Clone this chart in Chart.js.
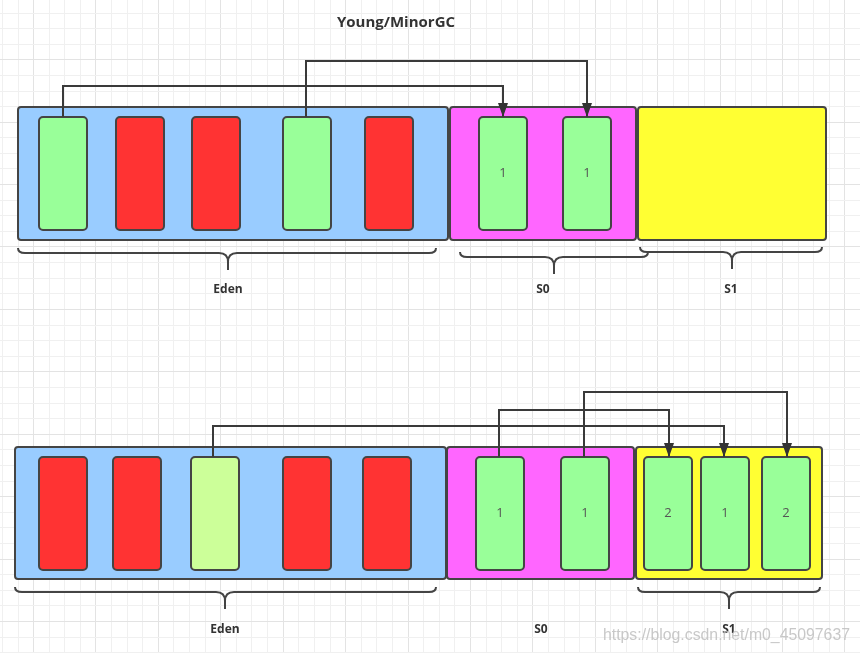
<!DOCTYPE html>
<html lang="en">
<head>
  <meta charset="UTF-8">
  <title>Young/MinorGC</title>
  <script src="https://cdn.jsdelivr.net/npm/chart.js"></script>
  <style>
    html, body { margin: 0; padding: 0; background: #fff; }
    #wrap { width: 860px; height: 653px; }
  </style>
</head>
<body>
  <div id="wrap"><canvas id="gc" width="860" height="653"></canvas></div>

  <script>
    // ---- data (diagram units, mapped through the chart scales) ----
    const title = 'Young/MinorGC';
    const spaceNames = ['Eden', 'S0', 'S1'];

    // before the collection
    const topSpaceLeft  = [18, 450, 638];
    const topSpaceRight = [448, 636, 826];
    const topEdenState = ['live', 'dead', 'dead', 'live', 'dead'];
    const topEdenX     = [39, 116, 192, 283, 365];
    const topS0Age = ['1', '1'];
    const topS0X   = [479, 563];
    const topS1Age = [];
    const topS1X   = [];
    const topArrowFrom  = [63, 306];
    const topArrowTo    = [503, 587];
    const topArrowLevel = [86, 61];
    const topBraceFrom = [18, 460, 640];
    const topBraceTo   = [436, 648, 822];
    const topBraceMid  = [228, 554, 732];
    const topBraceY    = [253, 257, 252];
    const topBraceTip  = [270, 274, 269];
    const topLabelX    = [228, 543, 731];

    // after the collection
    const botSpaceLeft  = [15, 447, 636];
    const botSpaceRight = [446, 634, 822];
    const botEdenState = ['dead', 'dead', 'young', 'dead', 'dead'];
    const botEdenX     = [39, 113, 191, 283, 363];
    const botS0Age = ['1', '1'];
    const botS0X   = [476, 561];
    const botS1Age = ['2', '1', '2'];
    const botS1X   = [644, 701, 762];
    const botArrowFrom  = [213, 499, 584];
    const botArrowTo    = [724, 669, 787];
    const botArrowLevel = [426, 410, 392];
    const botBraceFrom = [15, null, 638];
    const botBraceTo   = [436, null, 820];
    const botBraceMid  = [225, null, 729];
    const botBraceY    = [592, null, 592];
    const botBraceTip  = [609, null, 609];
    const botLabelX    = [225, 541, 729];

    const panels = [
      { spaceTop: 107, spaceBottom: 240, objTop: 117, objBottom: 230, labelY: 290,
        left: topSpaceLeft, right: topSpaceRight,
        eden: topEdenState, edenX: topEdenX, s0: topS0Age, s0X: topS0X, s1: topS1Age, s1X: topS1X,
        aFrom: topArrowFrom, aTo: topArrowTo, aLevel: topArrowLevel,
        bFrom: topBraceFrom, bTo: topBraceTo, bMid: topBraceMid, bY: topBraceY, bTip: topBraceTip,
        labelX: topLabelX },
      { spaceTop: 447, spaceBottom: 579, objTop: 457, objBottom: 570, labelY: 630,
        left: botSpaceLeft, right: botSpaceRight,
        eden: botEdenState, edenX: botEdenX, s0: botS0Age, s0X: botS0X, s1: botS1Age, s1X: botS1X,
        aFrom: botArrowFrom, aTo: botArrowTo, aLevel: botArrowLevel,
        bFrom: botBraceFrom, bTo: botBraceTo, bMid: botBraceMid, bY: botBraceY, bTip: botBraceTip,
        labelX: botLabelX }
    ];

    const objWidth = 48;
    const spaceColors = ['#99ccff', '#ff66ff', '#ffff33'];
    const stateColors = { live: '#99ff99', dead: '#ff3333', young: '#ccff99', survivor: '#99ff99' };
    const ink = '#444444';

    // grid lines of the drawing paper
    const gridX = [], gridY = [];
    for (let v = 2.4; v < 860; v += 15.6) gridX.push(v);
    for (let v = 13; v < 653; v += 15.6) gridY.push(v);

    // arrow datasets
    const arrowSets = [];
    panels.forEach(p => {
      p.aFrom.forEach((x0, i) => {
        arrowSets.push({
          data: [
            { x: x0, y: p.objTop },
            { x: x0, y: p.aLevel[i] },
            { x: p.aTo[i], y: p.aLevel[i] },
            { x: p.aTo[i], y: p.objTop }
          ],
          showLine: true,
          borderColor: '#3a3a3a',
          borderWidth: 2,
          pointRadius: 0,
          tension: 0,
          fill: false
        });
      });
    });

    function box(c, x0, y0, x1, y1, r, fill) {
      c.beginPath();
      c.roundRect(x0, y0, x1 - x0, y1 - y0, r);
      c.fillStyle = fill;
      c.fill();
      c.lineWidth = 2;
      c.strokeStyle = ink;
      c.stroke();
    }

    function brace(c, x0, x1, xm, y, tip) {
      c.beginPath();
      c.moveTo(x0, y - 5);
      c.quadraticCurveTo(x0, y, x0 + 7, y);
      c.lineTo(xm - 9, y);
      c.quadraticCurveTo(xm, y, xm, y + 9);
      c.lineTo(xm, tip);
      c.moveTo(x1, y - 5);
      c.quadraticCurveTo(x1, y, x1 - 7, y);
      c.lineTo(xm + 9, y);
      c.quadraticCurveTo(xm, y, xm, y + 9);
      c.lineWidth = 2;
      c.strokeStyle = ink;
      c.stroke();
    }

    const diagram = {
      id: 'diagram',
      beforeDatasetsDraw(chart) {
        const c = chart.ctx, X = v => chart.scales.x.getPixelForValue(v), Y = v => chart.scales.y.getPixelForValue(v);
        c.save();
        panels.forEach(p => {
          spaceNames.forEach((n, i) => {
            box(c, X(p.left[i]), Y(p.spaceTop), X(p.right[i]), Y(p.spaceBottom), 3, spaceColors[i]);
          });
          const objs = [];
          p.eden.forEach((s, i) => objs.push({ x: p.edenX[i], fill: stateColors[s], age: '' }));
          p.s0.forEach((a, i) => objs.push({ x: p.s0X[i], fill: stateColors.survivor, age: a }));
          p.s1.forEach((a, i) => objs.push({ x: p.s1X[i], fill: stateColors.survivor, age: a }));
          objs.forEach(o => {
            box(c, X(o.x), Y(p.objTop), X(o.x + objWidth), Y(p.objBottom), 4, o.fill);
            if (o.age) {
              c.fillStyle = '#555';
              c.font = '13px "Open Sans", sans-serif';
              c.textAlign = 'center';
              c.textBaseline = 'middle';
              c.fillText(o.age, X(o.x + objWidth / 2), Y((p.objTop + p.objBottom) / 2));
            }
          });
          spaceNames.forEach((n, i) => {
            if (p.bFrom[i] !== null) brace(c, X(p.bFrom[i]), X(p.bTo[i]), X(p.bMid[i]), Y(p.bY[i]), Y(p.bTip[i]));
            c.fillStyle = '#333';
            c.font = 'bold 12px "Open Sans", sans-serif';
            c.textAlign = 'center';
            c.textBaseline = 'middle';
            c.fillText(n, X(p.labelX[i]), Y(p.labelY));
          });
        });
        c.restore();
      },
      afterDatasetsDraw(chart) {
        const c = chart.ctx;
        c.save();
        chart.data.datasets.forEach((d, i) => {
          const pts = chart.getDatasetMeta(i).data;
          const tip = pts[pts.length - 1];
          c.beginPath();
          c.moveTo(tip.x, tip.y);
          c.lineTo(tip.x - 5, tip.y - 14);
          c.lineTo(tip.x + 5, tip.y - 14);
          c.closePath();
          c.fillStyle = '#333';
          c.fill();
        });
        c.fillStyle = '#333';
        c.font = 'bold 15px "Open Sans", sans-serif';
        c.textAlign = 'center';
        c.textBaseline = 'middle';
        c.fillText(title, chart.scales.x.getPixelForValue(396), chart.scales.y.getPixelForValue(23));
        c.fillStyle = 'rgba(190,190,190,0.85)';
        c.font = '16px "Liberation Sans", sans-serif';
        c.textAlign = 'right';
        c.fillText('https://blog.csdn.net/m0_45097637', chart.scales.x.getPixelForValue(850), chart.scales.y.getPixelForValue(636), 247);
        c.restore();
      }
    };

    const gridColor = c => (c.tick && c.tick.major ? '#e3e3e3' : '#f0f0f0');

    new Chart(document.getElementById('gc'), {
      type: 'scatter',
      data: { datasets: arrowSets },
      options: {
        responsive: false,
        animation: false,
        events: [],
        layout: { padding: 0 },
        plugins: { legend: { display: false }, tooltip: { enabled: false } },
        scales: {
          x: {
            type: 'linear', min: 0, max: 860,
            afterBuildTicks: a => { a.ticks = gridX.map((v, i) => ({ value: v, major: i % 4 === 2 })); },
            ticks: { display: false },
            border: { display: false },
            grid: { color: gridColor, drawTicks: false }
          },
          y: {
            type: 'linear', min: 0, max: 653, reverse: true,
            afterBuildTicks: a => { a.ticks = gridY.map((v, i) => ({ value: v, major: i % 4 === 3 })); },
            ticks: { display: false },
            border: { display: false },
            grid: { color: gridColor, drawTicks: false }
          }
        }
      },
      plugins: [diagram]
    });
  </script>
</body>
</html>
